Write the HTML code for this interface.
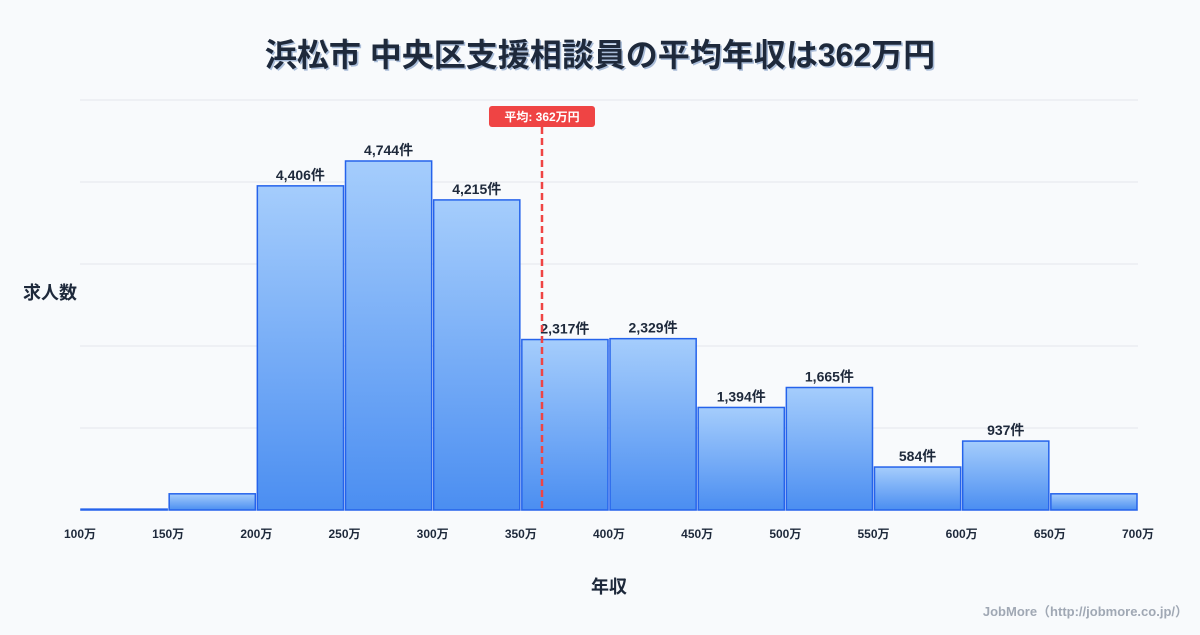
<!DOCTYPE html>
<html><head><meta charset="utf-8"><style>
body{margin:0;width:1200px;height:630px;background:#f8fafc;font-family:"Liberation Sans","Noto Sans CJK JP",sans-serif;overflow:hidden}
</style></head><body>
<svg id="c" width="1200" height="630" xmlns="http://www.w3.org/2000/svg">
<defs><linearGradient id="g" x1="0" y1="0" x2="0" y2="1"><stop offset="0" stop-color="#a5cdfc"/><stop offset="1" stop-color="#4b8ef1"/></linearGradient></defs>
<text x="600" y="66" text-anchor="middle" font-size="32" font-weight="bold" fill="#a9bcd8" transform="translate(1.5,1.5)">浜松市 中央区支援相談員の平均年収は362万円</text>
<text x="600" y="66" text-anchor="middle" font-size="32" font-weight="bold" fill="#1e293b">浜松市 中央区支援相談員の平均年収は362万円</text>
<g id="grid"></g><g id="bars"></g><g id="labels"></g><g id="xt"></g>
<text x="50" y="299" text-anchor="middle" font-size="18" font-weight="bold" fill="#1e293b">求人数</text>
<text x="609" y="593" text-anchor="middle" font-size="18" font-weight="bold" fill="#1e293b">年収</text>
<text x="1188" y="616" text-anchor="end" font-size="13" font-weight="bold" fill="#a0a8b4">JobMore（http://jobmore.co.jp/）</text>
<g id="mean"></g>
</svg>
<script>
const binStarts=[100,150,200,250,300,350,400,450,500,550,600,650];
const counts=[12,220,4406,4744,4215,2317,2329,1394,1665,584,937,220];
const showLabel=[false,false,true,true,true,true,true,true,true,true,true,false];
const xTicks=[100,150,200,250,300,350,400,450,500,550,600,650,700];
const meanValue=362;
const NS="http://www.w3.org/2000/svg";
const X0=80,X1=1138,Y0=510,Y1=100,XMIN=100,XMAX=700,YMAX=5573;
const x=v=>X0+(v-XMIN)/(XMAX-XMIN)*(X1-X0);
const y=v=>Y0-v/YMAX*(Y0-Y1);
function mk(t,a,p){const e=document.createElementNS(NS,t);for(const k in a)e.setAttribute(k,a[k]);document.getElementById(p).appendChild(e);return e;}
for(let i=0;i<=5;i++){const gy=Y1+i*(Y0-Y1)/5;const l=mk('line',{x1:X0,x2:X1,y1:gy,y2:gy,stroke:i==5?'#cbd5e1':'#e5e7eb','stroke-width':1},'grid');

}
counts.forEach((c,i)=>{const xa=x(binStarts[i])+1,xb=x(binStarts[i]+50)-1;
const r=mk('rect',{x:xa,y:y(c),width:xb-xa,height:Y0-y(c),fill:'url(#g)',stroke:'#2563eb','stroke-width':1.5},'bars');


if(showLabel[i]){const t=mk('text',{x:(xa+xb)/2,y:y(c)-6,'text-anchor':'middle','font-size':14,'font-weight':'bold',fill:'#1e293b'},'labels');t.textContent=c.toLocaleString('en-US')+'件';

}});
xTicks.forEach(v=>{const t=mk('text',{x:x(v),y:538,'text-anchor':'middle','font-size':12,'font-weight':'bold',fill:'#1e293b'},'xt');t.textContent=v+'万';

});
const mx=x(meanValue);
const ml=mk('line',{x1:mx,x2:mx,y1:127,y2:Y0,stroke:'#ef4444','stroke-width':2.5,'stroke-dasharray':'7,4'},'mean');


const mb=mk('rect',{x:mx-53,y:106,width:106,height:21,rx:3,fill:'#ef4444'},'mean');


const mt=mk('text',{x:mx,y:121,'text-anchor':'middle','font-size':12,'font-weight':'bold',fill:'#fff'},'mean');
mt.textContent='平均: '+meanValue+'万円';


</script>
</body></html>
